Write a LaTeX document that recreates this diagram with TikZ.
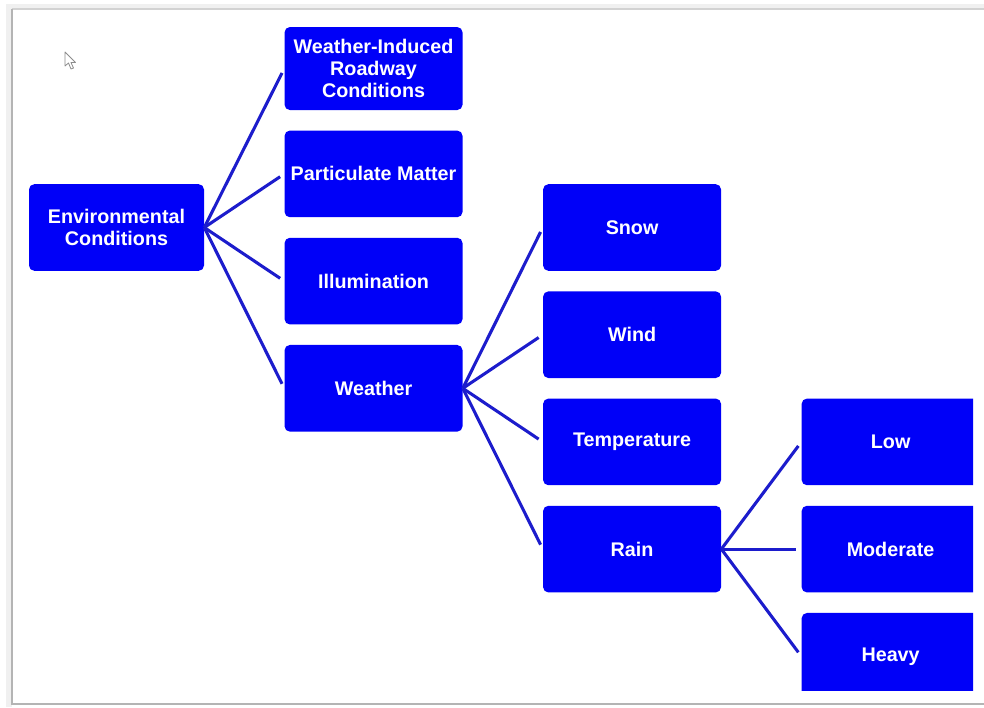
\documentclass[tikz,border=0pt]{standalone}
\usepackage{fontspec}
\setmainfont{Liberation Sans}
\usepackage{xcolor}
\definecolor{nodeblue}{HTML}{0000F8}
\definecolor{linkblue}{HTML}{1C1CCC}
\definecolor{framegray}{HTML}{B4B4B4}
\usetikzlibrary{positioning}
\tikzset{
  box/.style  = {rectangle, rounded corners=4pt, fill=nodeblue, text=white,
                 minimum height=65pt, minimum width=133.5pt, inner sep=2pt,
                 align=center, font=\fontsize{14.8}{16.5}\selectfont\bfseries},
  link/.style = {line width=2.3pt, draw=linkblue, shorten >=3.75pt}
}

\begin{document}
\begin{tikzpicture}[x=0.75pt, y=-0.75pt, node distance=15pt and 60pt]
  \useasboundingbox (0,0) rectangle (984,707);
  % frame of the screenshot
  \fill[white] (0,0) rectangle (984,707);
  \draw[black!6, line width=4pt] (9,707) -- (9,7) -- (984,7);
  \draw[framegray!60, line width=1pt] (12,9) -- (984,9);
  \draw[framegray, line width=1.5pt] (12,9) -- (12,704) -- (984,704);
  % mouse pointer
  \draw[black!45, fill=white, line width=0.6pt, line join=round]
    (65,52) -- (65,66) -- (68.5,63) -- (71,69) -- (73.5,68) -- (71,62.5) -- (75.5,62.5) -- cycle;
  \begin{scope}
    \clip (13,10) rectangle (973,690);
    \node[box, minimum width=131.25pt] (env) at (116.5,227.5) {Environmental\\Conditions};
    \node[box, above right=7.5pt and 60pt of env.east] (pm) {Particulate Matter};
    \node[box, above=of pm, minimum height=62.25pt] (wic) {Weather-Induced\\Roadway\\Conditions};
    \node[box, below=of pm]  (ill) {Illumination};
    \node[box, below=of ill] (wea) {Weather};
    \node[box, below right=7.5pt and 60pt of wea.east] (tmp) {Temperature};
    \node[box, above=of tmp]  (wind) {Wind};
    \node[box, above=of wind] (snow) {Snow};
    \node[box, below=of tmp]  (rain) {Rain};
    \node[box, right=of rain] (mod)  {Moderate};
    \node[box, above=of mod]  (low)  {Low};
    \node[box, below=of mod]  (hvy)  {Heavy};
    \foreach \c in {wic,pm,ill,wea}
      \draw[link] (env.east) -- (\c.west);
    \foreach \c in {snow,wind,tmp,rain}
      \draw[link] (wea.east) -- (\c.west);
    \foreach \c in {low,mod,hvy}
      \draw[link] (rain.east) -- (\c.west);
  \end{scope}
\end{tikzpicture}
\end{document}
